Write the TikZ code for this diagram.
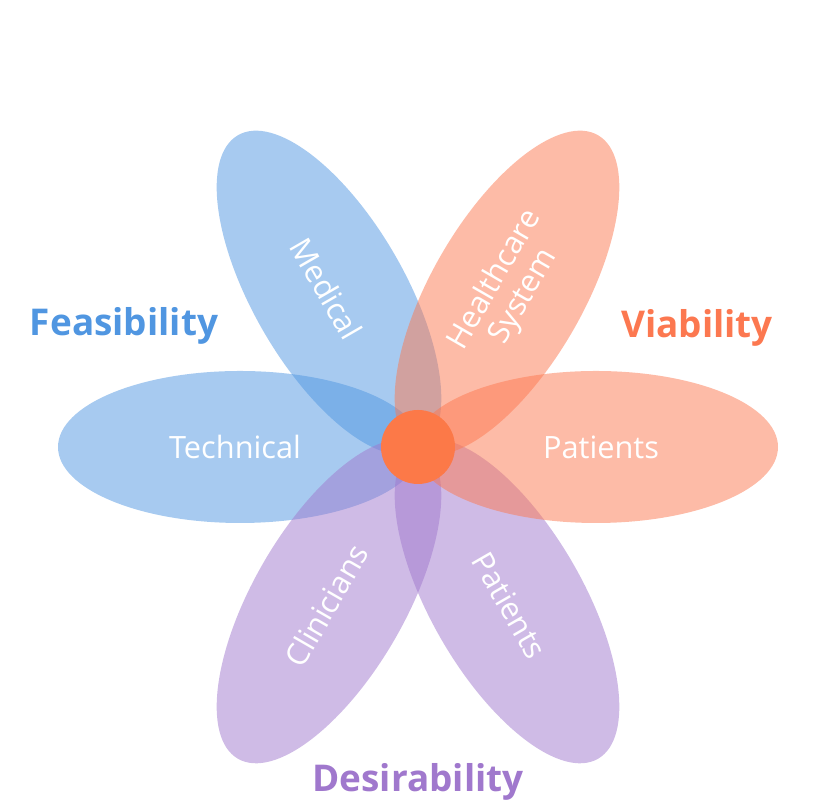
\documentclass[tikz,border=0pt]{standalone}
\usetikzlibrary{calc}
\usepackage{fontspec}
\setmainfont{Open Sans}
\begin{document}
\begin{tikzpicture}[x=0.02cm,y=0.02cm,
  pet/.style={fill opacity=0.5,draw=none},
  lab/.style={text=white,font=\fontsize{17.5}{20}\selectfont},
  big/.style={font=\bfseries\fontsize{21}{24}\selectfont}]
\definecolor{cb}{RGB}{80,150,225}
\definecolor{co}{RGB}{252,120,80}
\definecolor{cp}{RGB}{160,120,205}
\useasboundingbox (0,0) rectangle (840,810);
\coordinate (C) at (418,363);
\foreach \a/\c in {180/cb,120/cb,240/cp,300/cp,0/co,60/co}
  \fill[pet,\c] (C) ++(\a:178) ellipse[x radius=182,y radius=76,rotate=\a];
\fill[co!90!orange] (C) circle (37);
\node[lab] (tech) at ($(C)+(180:183)$) {Technical};
\node[lab,rotate=-60] (med) at ($(C)+(120:183)$) {Medical};
\node[lab,rotate=60,align=center,font=\fontsize{17.5}{19}\selectfont] (hs) at ($(C)+(60:183)$) {Healthcare\\System};
\node[lab] (pat1) at ($(C)+(0:183)$) {Patients};
\node[lab,rotate=60] (cli) at ($(C)+(240:183)$) {Clinicians};
\node[lab,rotate=-60] (pat2) at ($(C)+(300:183)$) {Patients};
\node[big,text=cb] (fea) at (124,484) {Feasibility};
\node[big,text=co] (via) at (697,482) {Viability};
\node[big,text=cp] (des) at (418,28) {Desirability};
\end{tikzpicture}
\end{document}
